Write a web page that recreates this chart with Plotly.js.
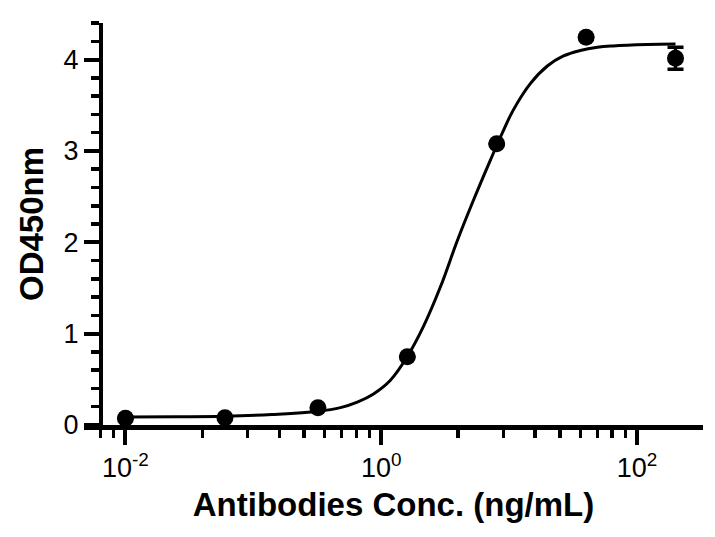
<!DOCTYPE html>
<html>
<head>
<meta charset="utf-8">
<script src="https://cdn.plot.ly/plotly-3.0.1.min.js"></script>
<style>
  html, body { margin: 0; padding: 0; background: #fff; }
  #chart { width: 715px; height: 537px; }
</style>
</head>
<body>
<div id="chart"></div>
<script>
// Measured points (concentration in ng/mL, OD450)
const concentrations = [0.01, 0.06, 0.32, 1.6, 8, 40, 200];
const od450 = [0.073, 0.08, 0.19, 0.748, 3.08, 4.246, 4.016];
const od450Err = [0, 0, 0, 0, 0, 0, 0.12];

// Fitted curve
const curveConc = [0.01, 0.025, 0.06, 0.14, 0.32, 0.48, 0.65, 0.87, 1.18, 1.6, 2.14, 2.9, 3.94, 5.26, 7.14, 9.0, 10.8, 14.7, 19.9, 26.6, 36, 49, 65, 120, 200];
const curveOD = [0.088, 0.09, 0.095, 0.115, 0.15, 0.19, 0.25, 0.34, 0.49, 0.75, 1.08, 1.51, 2.02, 2.46, 2.90, 3.22, 3.45, 3.74, 3.93, 4.04, 4.10, 4.135, 4.15, 4.165, 4.17];

// Axis ticks
const xMajorTicks = [0.01, 1, 100];
const xMajorLabels = ['10<sup>-2</sup>', '10<sup>0</sup>', '10<sup>2</sup>'];
const xMinorTicks = [0.0064, 0.0081, 0.04, 0.09, 0.16, 0.25, 0.36, 0.49, 0.64, 0.81, 4, 9, 16, 25, 36, 49, 64, 81];
const yMajorTicks = [0, 1, 2, 3, 4];
const yMajorLabels = ['0', '1', '2', '3', '4'];

const font = 'Liberation Sans, Arial, Helvetica, sans-serif';

const traces = [
  {
    x: curveConc, y: curveOD, type: 'scatter', mode: 'lines',
    line: { color: '#000', width: 3, shape: 'spline', smoothing: 1.1 },
    hoverinfo: 'skip', showlegend: false
  },
  {
    x: concentrations, y: od450, type: 'scatter', mode: 'markers',
    marker: { color: '#000', size: 17 },
    error_y: { type: 'data', array: od450Err, visible: true, color: '#000', thickness: 3.5, width: 8 },
    showlegend: false
  }
];

const layout = {
  width: 715, height: 537,
  margin: { l: 83.5, r: 12, t: 23.3, b: 112 },
  paper_bgcolor: '#fff', plot_bgcolor: '#fff',
  font: { family: font, color: '#000' },
  xaxis: {
    type: 'log', range: [-2.324, 2.516],
    showline: true, linecolor: '#000', linewidth: 4.5,
    showgrid: false, zeroline: false,
    ticks: 'outside', ticklen: 15, tickwidth: 4, tickcolor: '#000',
    tickmode: 'array', tickvals: xMajorTicks, ticktext: xMajorLabels,
    tickfont: { family: font, size: 27, color: '#000' },
    minor: { tickmode: 'array', tickvals: xMinorTicks, ticks: 'outside', ticklen: 8, tickwidth: 3.5, tickcolor: '#000', showgrid: false },
    title: { text: '<b>Antibodies Conc. (ng/mL)</b>', font: { family: font, size: 33, color: '#000' }, standoff: 12 }
  },
  yaxis: {
    range: [0, 4.401], anchor: 'free', position: 0.0274,
    showline: true, linecolor: '#000', linewidth: 4.5,
    showgrid: false, zeroline: false,
    ticks: 'outside', ticklen: 15, tickwidth: 4, tickcolor: '#000',
    tickmode: 'array', tickvals: yMajorTicks, ticktext: yMajorLabels,
    tickfont: { family: font, size: 27, color: '#000' },
    minor: { tickmode: 'linear', tick0: 0, dtick: 0.2, ticks: 'outside', ticklen: 8, tickwidth: 3.5, tickcolor: '#000', showgrid: false },
    title: { text: '<b>OD450nm</b>', font: { family: font, size: 33, color: '#000' }, standoff: 9 }
  }
};

Plotly.newPlot('chart', traces, layout, { displayModeBar: false, staticPlot: true });
</script>
</body>
</html>
